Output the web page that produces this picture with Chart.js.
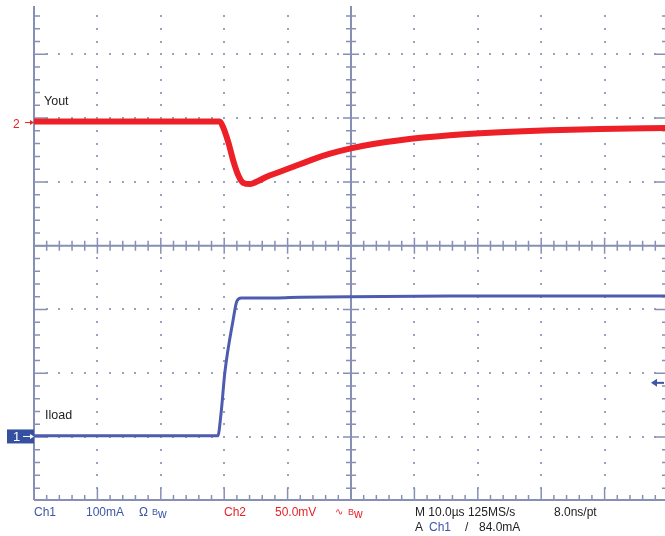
<!DOCTYPE html>
<html>
<head>
<meta charset="utf-8">
<script src="https://cdn.jsdelivr.net/npm/chart.js@4.4.0/dist/chart.umd.min.js"></script>
<style>
html, body { margin: 0; padding: 0; background: #fff; overflow: hidden; }
#wrap { position: relative; width: 670px; height: 536px; }
.t { position: absolute; font-family: "Liberation Sans", Arial, sans-serif; font-size: 12px; line-height: 14px; white-space: nowrap; }
.b { color: #3d56a6; }
.r { color: #e5232a; }
.k { color: #222; }
.bw { font-size: 9px; vertical-align: 3px; }
</style>
</head>
<body>
<div id="wrap">
<canvas id="scope" width="670" height="536"></canvas>

<span class="t k" style="left:44px;top:94px;font-size:12.5px">Yout</span>
<span class="t k" style="left:45px;top:408px;font-size:12.5px">Iload</span>

<span class="t b" style="left:34px;top:505px">Ch1</span>
<span class="t b" style="left:86px;top:505px">100mA</span>
<span class="t b" style="left:139px;top:505px">&Omega;</span>
<span class="t b" style="left:152px;top:505px"><span class="bw">B</span>w</span>
<span class="t r" style="left:224px;top:505px">Ch2</span>
<span class="t r" style="left:275px;top:505px">50.0mV</span>
<span class="t r" style="left:335px;top:505px;font-size:10px">&#8767;</span>
<span class="t r" style="left:348px;top:505px"><span class="bw">B</span>w</span>
<span class="t k" style="left:415px;top:505px">M 10.0&micro;s 125MS/s</span>
<span class="t k" style="left:554px;top:505px">8.0ns/pt</span>
<span class="t k" style="left:415px;top:520px">A</span>
<span class="t b" style="left:429px;top:520px">Ch1</span>
<span class="t k" style="left:465px;top:520px">/</span>
<span class="t k" style="left:479px;top:520px">84.0mA</span>
</div>

<script>
// time in µs, 10 µs/div, 10 divisions across the screen
const tVout = [0, 29.3, 29.8, 30.7, 31.4, 32.2, 33.0, 34.1, 35.1, 36.7, 38.8, 40.9, 44.1, 46.7, 49.8, 53.5, 57.7, 65.6, 73.5, 81.4, 89.3, 100];
// Vout in mV, relative to the Ch2 marker (50 mV/div)
const vout = [0.8, 0.8, -3.3, -16.3, -29.4, -41.1, -47.2, -48.2, -46.4, -42.5, -38.6, -34.6, -28.6, -24.4, -20.4, -16.8, -13.8, -10.0, -7.6, -6.0, -5.0, -4.2];

const tIload = [0, 29.0, 29.5, 30.1, 31.4, 32.0, 32.7, 35.7, 42.0, 49.8, 65.6, 100];
// Iload in mA, relative to the Ch1 marker (100 mA/div)
const iload = [1, 1, 36, 100, 182, 212, 217, 217, 218, 219, 220, 220];

// marker positions, in divisions from screen centre
const CH2_POS = 1.93;
const CH1_POS = -2.99;
const MV_PER_DIV = 50;
const MA_PER_DIV = 100;
const TRIG_MA = 84.0;

const voutPts = tVout.map((t, i) => ({ x: t, y: CH2_POS + vout[i] / MV_PER_DIV }));
const iloadPts = tIload.map((t, i) => ({ x: t, y: CH1_POS + iload[i] / MA_PER_DIV }));

const LINE = '#8790b4';
const DOT = '#99a1c1';

// scope graticule: dotted division lines, centre cross and border ticks
const graticule = {
    id: 'graticule',
    beforeDatasetsDraw(chart) {
        const ctx = chart.ctx, a = chart.chartArea;
        const x = chart.scales.x, y = chart.scales.y;
        const px = t => x.getPixelForValue(t);
        const py = d => y.getPixelForValue(d);
        ctx.save();

        ctx.fillStyle = DOT;
        for (let i = 1; i < 10; i++) {
            if (i == 5) continue;
            for (let j = -20; j <= 20; j++) {
                const yy = py(j / 5);
                if (yy < a.top + 2 || yy > a.bottom - 2) continue;
                ctx.fillRect(Math.round(px(i * 10)) - 1, Math.round(yy) - 1, 2, 2);
            }
        }
        for (let j = -3; j <= 3; j++) {
            if (j == 0) continue;
            for (let i = 1; i < 50; i++) {
                ctx.fillRect(Math.round(px(i * 2)) - 1, Math.round(py(j)) - 1, 2, 2);
            }
        }

        ctx.strokeStyle = LINE;
        ctx.lineWidth = 2;
        ctx.beginPath();
        // left & right borders, bottom border
        ctx.moveTo(px(0), a.top); ctx.lineTo(px(0), a.bottom);
        ctx.moveTo(px(100), a.top); ctx.lineTo(px(100), a.bottom);
        ctx.moveTo(px(0), a.bottom); ctx.lineTo(px(100), a.bottom);
        // centre cross
        ctx.moveTo(px(50), a.top); ctx.lineTo(px(50), a.bottom);
        ctx.moveTo(px(0), py(0)); ctx.lineTo(px(100), py(0));
        ctx.stroke();

        ctx.lineWidth = 1.5;
        ctx.beginPath();
        for (let j = -20; j <= 20; j++) {
            const yy = py(j / 5);
            if (yy < a.top + 2 || yy > a.bottom - 2) continue;
            const major = j % 5 == 0;
            const len = major ? 13 : 6;
            ctx.moveTo(px(0), yy); ctx.lineTo(px(0) + len, yy);
            ctx.moveTo(px(100), yy); ctx.lineTo(px(100) - len, yy);
            const c = major ? 8 : 5;
            ctx.moveTo(px(50) - c, yy); ctx.lineTo(px(50) + c, yy);
        }
        for (let i = 1; i < 50; i++) {
            const xx = px(i * 2);
            const major = i % 5 == 0;
            ctx.moveTo(xx, a.bottom); ctx.lineTo(xx, a.bottom - (major ? 12 : 5));
            const c = major ? 8 : 5;
            ctx.moveTo(xx, py(0) - c); ctx.lineTo(xx, py(0) + c);
        }
        ctx.stroke();
        ctx.restore();
    },
    afterDatasetsDraw(chart) {
        const ctx = chart.ctx;
        const x = chart.scales.x, y = chart.scales.y;
        const x0 = x.getPixelForValue(0);
        ctx.save();

        // Ch2 marker "2 ->"
        const y2 = y.getPixelForValue(CH2_POS);
        ctx.fillStyle = '#e5232a';
        ctx.strokeStyle = '#e5232a';
        ctx.font = '12px "Liberation Sans", Arial, sans-serif';
        ctx.textBaseline = 'middle';
        ctx.fillText('2', 13, y2 + 2);
        ctx.lineWidth = 1;
        ctx.beginPath();
        ctx.moveTo(25, y2); ctx.lineTo(x0 - 2, y2);
        ctx.stroke();
        ctx.beginPath();
        ctx.moveTo(x0, y2); ctx.lineTo(x0 - 4, y2 - 2.5); ctx.lineTo(x0 - 4, y2 + 2.5);
        ctx.fill();

        // Ch1 marker tag
        const y1 = y.getPixelForValue(CH1_POS);
        ctx.fillStyle = '#34509e';
        ctx.fillRect(7, y1 - 7, x0 - 7, 14);
        ctx.fillStyle = '#fff';
        ctx.strokeStyle = '#fff';
        ctx.font = '13px "Liberation Sans", Arial, sans-serif';
        ctx.fillText('1', 13, y1 + 1);
        ctx.beginPath();
        ctx.moveTo(23, y1); ctx.lineTo(x0 - 3, y1);
        ctx.stroke();
        ctx.beginPath();
        ctx.moveTo(x0, y1); ctx.lineTo(x0 - 4, y1 - 2.5); ctx.lineTo(x0 - 4, y1 + 2.5);
        ctx.fill();

        // trigger level arrow on the right
        const yt = y.getPixelForValue(CH1_POS + TRIG_MA / MA_PER_DIV);
        ctx.fillStyle = '#3d56a6';
        ctx.strokeStyle = '#3d56a6';
        ctx.lineWidth = 2;
        ctx.beginPath();
        ctx.moveTo(656, yt); ctx.lineTo(664, yt);
        ctx.stroke();
        ctx.beginPath();
        ctx.moveTo(651, yt); ctx.lineTo(657, yt - 4); ctx.lineTo(657, yt + 4);
        ctx.fill();
        ctx.restore();
    }
};

new Chart(document.getElementById('scope'), {
    type: 'line',
    data: {
        datasets: [
            {
                label: 'Vout',
                data: voutPts,
                borderColor: 'rgb(236, 32, 38)',
                borderWidth: 6,
                pointRadius: 0,
                cubicInterpolationMode: 'monotone'
            },
            {
                label: 'Iload',
                data: iloadPts,
                borderColor: 'rgb(78, 92, 175)',
                borderWidth: 3,
                pointRadius: 0,
                cubicInterpolationMode: 'monotone'
            }
        ]
    },
    options: {
        responsive: false,
        animation: false,
        layout: { padding: { left: 34, top: 6, right: 2, bottom: 36 } },
        plugins: { legend: { display: false }, tooltip: { enabled: false } },
        scales: {
            x: { type: 'linear', min: 0, max: 100, display: false },
            y: { min: -3.986, max: 3.757, display: false }
        }
    },
    plugins: [graticule]
});
</script>
</body>
</html>
